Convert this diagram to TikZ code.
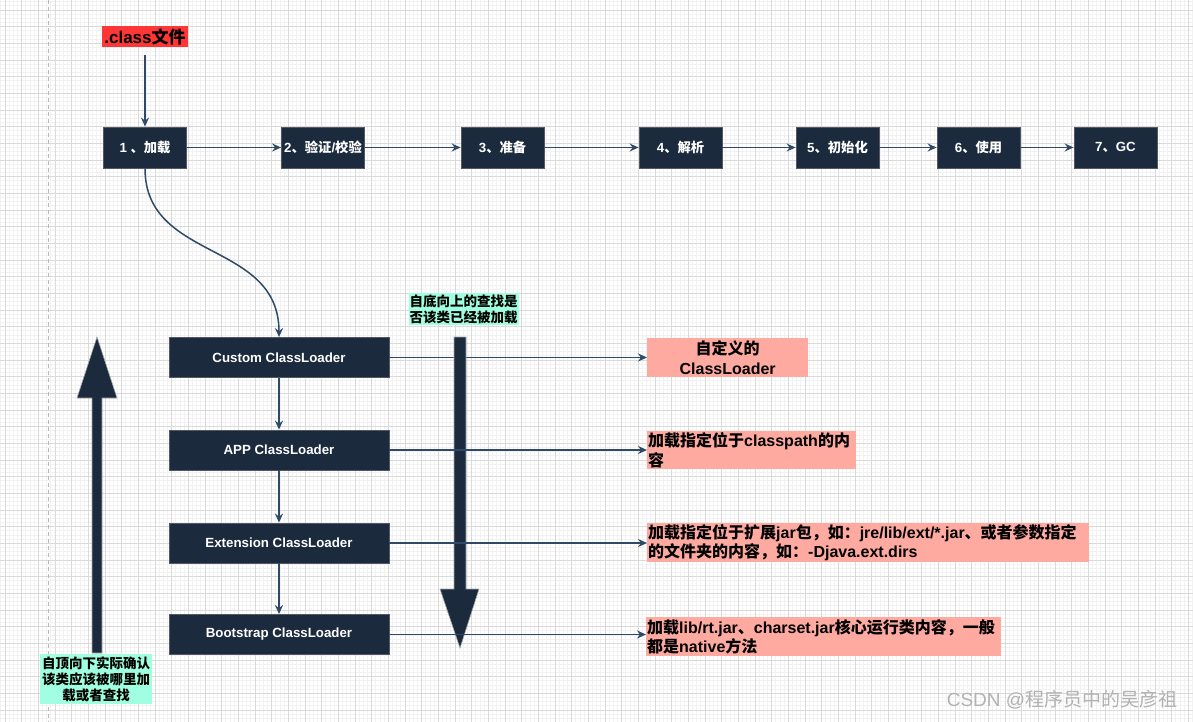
\documentclass[tikz,border=0pt]{standalone}
\usepackage{fontspec}
\setmainfont{Liberation Sans}
\newfontfamily\cjk{Noto Sans CJK SC}
\usetikzlibrary{arrows.meta}
\definecolor{navy}{HTML}{1B2B3D}
\definecolor{edgec}{HTML}{2E4A66}
\definecolor{pinkbg}{HTML}{FFAAA0}
\definecolor{mint}{HTML}{A0FFE0}
\definecolor{redbg}{HTML}{FF3636}
\definecolor{gridmin}{HTML}{F2F2F2}
\definecolor{gridmaj}{HTML}{DADADA}
\newcommand\zhs[1]{{\cjk #1}}
\begin{document}
\begin{tikzpicture}[x=1pt,y=-1pt,
  dark/.style={fill=navy, draw=gray!55!navy, line width=0.8pt, text=white, font=\bfseries\fontsize{13.3}{15}\selectfont, inner sep=0pt},
  stage/.style={dark, minimum width=83pt, minimum height=41pt},
  loader/.style={dark, minimum width=220pt, minimum height=40pt},
  note/.style={fill=pinkbg, inner sep=1pt, font=\bfseries\fontsize{16}{19.5}\selectfont, anchor=north west, align=left},
  tag/.style={fill=mint, inner sep=1pt, font=\bfseries\fontsize{13.5}{16}\selectfont, align=center},
  conn/.style={draw=edgec, line width=1.5pt, -{Stealth[length=9pt,width=8pt,inset=3pt]}},
  bigarrow/.style={fill=navy, draw=gray!70, line width=0.6pt},
  gmin/.style={draw=gridmin, line width=0.8pt},
  gmaj/.style={draw=gridmaj, line width=0.8pt}]
\useasboundingbox (0,0) rectangle (1193,722);
\fill[white] (0,0) rectangle (1193,722);
% grid
\foreach \i in {-4,...,287} \draw[gmin] ({5+\i*4.16667},0) -- ++(0,722);
\foreach \i in {-4,...,175} \draw[gmin] (0,{10+\i*4.16667}) -- ++(1193,0);
\foreach \i in {0,...,72} \draw[gmaj] ({5+\i*16.6667},0) -- ++(0,722);
\foreach \i in {-1,...,43} \draw[gmaj] (0,{10+\i*16.6667}) -- ++(1193,0);
\draw[gray!55, line width=0.8pt, dash pattern=on 4pt off 3pt] (48,0) -- (48,722);

% class file
\node[fill=redbg, inner sep=1pt, font=\bfseries\fontsize{17}{19}\selectfont, minimum width=86pt, minimum height=21pt] (cls) at (145,36.5) {.class\zhs{文件}};

% stages
\node[stage] (n1) at (145,147.5) {1 \zhs{、加载}};
\node[stage] (n2) at (323,147.5) {2\zhs{、验证}/\zhs{校验}};
\node[stage] (n3) at (502.5,147.5) {3\zhs{、准备}};
\node[stage] (n4) at (680.5,147.5) {4\zhs{、解析}};
\node[stage] (n5) at (837.5,147.5) {5\zhs{、初始化}};
\node[stage] (n6) at (978.5,147.5) {6\zhs{、使用}};
\node[stage] (n7) at (1115.5,147.5) {7\zhs{、}GC};

\draw[conn, shorten <=8pt] (cls) -- (n1);
\draw[conn] (n1) -- (n2);
\draw[conn] (n2) -- (n3);
\draw[conn] (n3) -- (n4);
\draw[conn] (n4) -- (n5);
\draw[conn] (n5) -- (n6);
\draw[conn] (n6) -- (n7);

% loaders
\node[loader] (cl1) at (279,357.5) {Custom ClassLoader};
\node[loader] (cl2) at (279,450) {APP ClassLoader};
\node[loader] (cl3) at (279,543) {Extension ClassLoader};
\node[loader] (cl4) at (279,634.5) {Bootstrap ClassLoader};

\draw[conn] (n1.south) .. controls (145,262) and (279,240) .. (cl1.north);
\draw[conn] (cl1) -- (cl2);
\draw[conn] (cl2) -- (cl3);
\draw[conn] (cl3) -- (cl4);

% notes
\node[note, minimum height=39pt, text width=159pt, align=center] (p1) at (647,338) {\zhs{自定义的}\\ClassLoader};
\node[note, minimum height=38pt, text width=207pt] (p2) at (647,431) {\zhs{加载指定位于}classpath\zhs{的内}\\\zhs{容}};
\node[note, minimum height=39pt, text width=440pt] (p3) at (647,523) {\zhs{加载指定位于扩展}jar\zhs{包，如：}jre/lib/ext/*.jar\zhs{、或者参数指定}\\\zhs{的文件夹的内容，如：}-Djava.ext.dirs};
\node[note, minimum height=39pt, text width=353pt] (p4) at (646,617) {\zhs{加载}lib/rt.jar\zhs{、}charset.jar\zhs{核心运行类内容，一般}\\\zhs{都是}native\zhs{方法}};

\draw[conn] (cl1.east) -- (cl1.east -| p1.west);

% big arrows
\path[bigarrow] (92,653) -- (92,398) -- (77,398) -- (97,337) -- (117,398) -- (102,398) -- (102,653) -- cycle;
\path[bigarrow] (454,337) -- (454,589) -- (440,589) -- (460,648) -- (479,589) -- (466,589) -- (466,337) -- cycle;

\draw[conn] (cl2.east) -- (cl2.east -| p2.west);
\draw[conn] (cl3.east) -- (cl3.east -| p3.west);
\draw[conn] (cl4.east) -- (cl4.east -| p4.west);

% tags
\node[tag] (t1) at (463.5,309) {\zhs{自底向上的查找是}\\\zhs{否该类已经被加载}};
\node[tag, minimum width=112pt, minimum height=50pt] (t2) at (96,679) {\zhs{自顶向下实际确认}\\\zhs{该类应该被哪里加}\\\zhs{载或者查找}};

% watermark
\node[text=gray!60, font=\fontsize{19}{21}\selectfont, inner sep=0pt] (wm) at (1062,700) {CSDN @\zhs{程序员中的吴彦祖}};
\end{tikzpicture}
\end{document}
